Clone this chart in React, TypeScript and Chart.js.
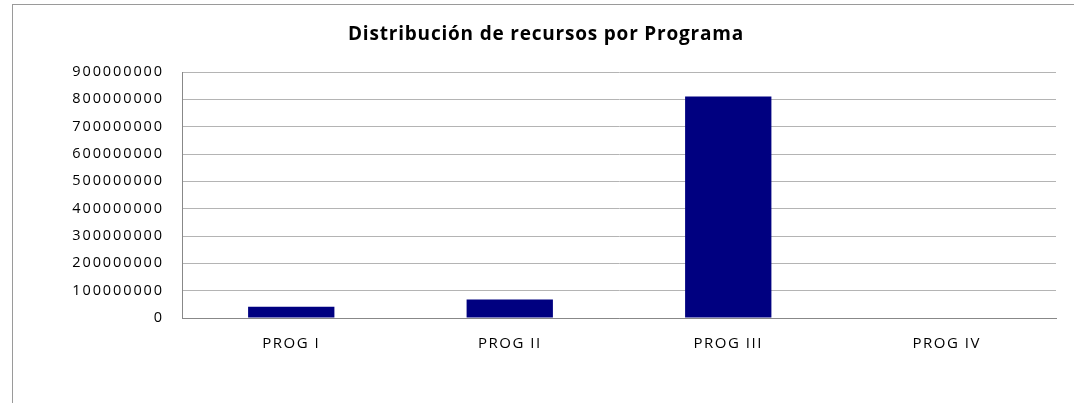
import React, { useEffect, useRef } from "react";
import { Chart, registerables } from "chart.js";

Chart.register(...registerables);

const categories = ["PROG I", "PROG II", "PROG III", "PROG IV"];
const recursos = [41000000, 68000000, 810000000, 0];
const yMax = 900000000;
const yStep = 100000000;
const titleText = "Distribución de recursos por Programa";

const TITLE_SPACING = "0.8px";
const X_SPACING = "1.5px";
const Y_SPACING = "1.9px";

function wrap(obj: any, method: string, spacing: string) {
  if (!obj || obj["__wrapped_" + method]) return;
  const orig = obj[method];
  obj[method] = function (...args: any[]) {
    const ctx = this.ctx || (this.chart && this.chart.ctx);
    const prev = ctx.letterSpacing;
    ctx.letterSpacing = spacing;
    try {
      return orig.apply(this, args);
    } finally {
      ctx.letterSpacing = prev;
    }
  };
  obj["__wrapped_" + method] = true;
}

const spacingPlugin = {
  id: "letterSpacing",
  beforeDraw(chart: any) {
    chart.ctx.letterSpacing = "0px";
    wrap(chart.titleBlock, "draw", TITLE_SPACING);
    wrap(chart.scales.x, "drawLabels", X_SPACING);
    wrap(chart.scales.y, "drawLabels", Y_SPACING);
  },
};

export default function App() {
  const ref = useRef<HTMLCanvasElement | null>(null);

  useEffect(() => {
    if (!ref.current) return;
    const chart = new Chart(ref.current, {
      type: "bar",
      data: {
        labels: categories,
        datasets: [
          {
            label: "Recursos",
            data: recursos,
            backgroundColor: "#000080",
            borderWidth: 0,
            barPercentage: 0.395,
            categoryPercentage: 1,
          },
        ],
      },
      plugins: [spacingPlugin],
      options: {
        responsive: false,
        animation: false,
        maintainAspectRatio: false,
        layout: { padding: { left: 36, right: 18, top: 0, bottom: 0 } },
        plugins: {
          legend: { display: false },
          tooltip: { enabled: false },
          title: {
            display: true,
            text: titleText,
            color: "#000",
            font: { family: "Open Sans", size: 19, weight: "bold" },
            padding: { top: 23, bottom: 26.2 },
          },
        },
        scales: {
          x: {
            grid: { display: false, drawTicks: false },
            border: { display: true, color: "#888888", width: 1 },
            ticks: {
              color: "#000",
              font: { family: "Open Sans", size: 15 },
              padding: 17,
            },
            afterFit: (scale: any) => {
              scale.height = 85;
            },
          },
          y: {
            min: 0,
            max: yMax,
            grid: { color: "#b4b4b4", lineWidth: 1, drawTicks: false },
            border: { display: true, color: "#888888", width: 1 },
            ticks: {
              stepSize: yStep,
              color: "#000",
              font: { family: "Open Sans", size: 14.5 },
              padding: 18,
              callback: (v: any) => String(v),
            },
            afterFit: (scale: any) => {
              scale.width = 146;
            },
          },
        },
      },
    });
    return () => chart.destroy();
  }, []);

  return (
    <div style={{ position: "fixed", left: 0, top: 0, width: 1074, height: 403, background: "#fff", overflow: "hidden" }}>
      <div
        style={{
          position: "absolute",
          left: 12,
          top: 4,
          width: 1100,
          height: 440,
          border: "1.5px solid #9a9a9a",
          boxSizing: "border-box",
        }}
      />
      <canvas ref={ref} width={1074} height={403} style={{ position: "absolute", left: 0, top: 0 }} />
    </div>
  );
}
